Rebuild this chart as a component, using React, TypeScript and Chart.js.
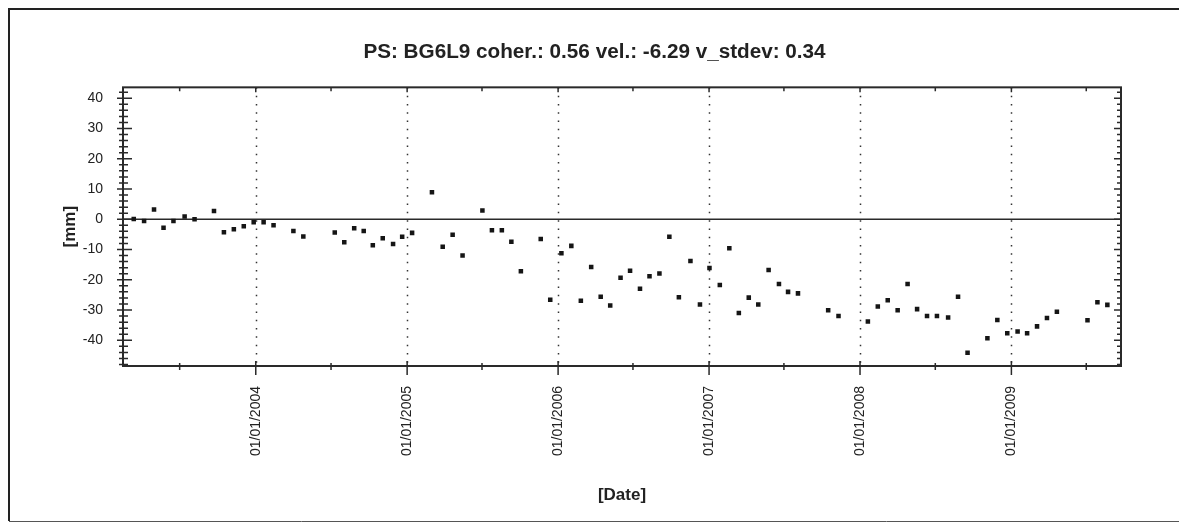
import { useEffect, useRef } from 'react';
import { Chart, registerables } from 'chart.js';

Chart.register(...registerables);

// ---- data ----
const chartTitle = 'PS: BG6L9 coher.: 0.56 vel.: -6.29 v_stdev: 0.34';
const xAxisTitle = '[Date]';
const yAxisTitle = '[mm]';

const acquisitionDates = [
  '2003-03-12', '2003-04-06', '2003-04-30', '2003-05-23', '2003-06-16', '2003-07-13', '2003-08-06',
  '2003-09-22', '2003-10-16', '2003-11-09', '2003-12-03', '2003-12-27', '2004-01-20', '2004-02-13',
  '2004-04-01', '2004-04-25', '2004-07-10', '2004-08-02', '2004-08-26', '2004-09-18', '2004-10-10',
  '2004-11-03', '2004-11-28', '2004-12-20', '2005-01-13', '2005-03-02', '2005-03-28', '2005-04-21',
  '2005-05-15', '2005-07-02', '2005-07-25', '2005-08-18', '2005-09-10', '2005-10-03', '2005-11-20',
  '2005-12-13', '2006-01-09', '2006-02-02', '2006-02-25', '2006-03-22', '2006-04-14', '2006-05-07',
  '2006-06-01', '2006-06-24', '2006-07-18', '2006-08-10', '2006-09-03', '2006-09-27', '2006-10-20',
  '2006-11-17', '2006-12-10', '2007-01-02', '2007-01-27', '2007-02-19', '2007-03-14', '2007-04-07',
  '2007-04-30', '2007-05-25', '2007-06-19', '2007-07-11', '2007-08-04', '2007-10-16', '2007-11-10',
  '2008-01-20', '2008-02-13', '2008-03-08', '2008-04-01', '2008-04-25', '2008-05-18', '2008-06-11',
  '2008-07-05', '2008-08-01', '2008-08-25', '2008-09-17', '2008-11-04', '2008-11-28', '2008-12-22',
  '2009-01-16', '2009-02-08', '2009-03-04', '2009-03-28', '2009-04-21', '2009-07-04', '2009-07-28',
  '2009-08-21',
];

const displacementMm = [
  0.1, -0.6, 3.2, -2.8, -0.6, 0.9, 0.0,
  2.7, -4.3, -3.3, -2.3, -1.0, -1.0, -2.0,
  -3.9, -5.7, -4.4, -7.6, -3.0, -3.9, -8.6,
  -6.3, -8.2, -5.8, -4.5, 8.9, -9.1, -5.1,
  -12.0, 2.9, -3.6, -3.6, -7.4, -17.2, -6.5,
  -26.6, -11.2, -8.8, -26.9, -15.8, -25.6, -28.5,
  -19.3, -17.0, -23.0, -18.8, -17.9, -5.8, -25.8,
  -13.8, -28.2, -16.1, -21.7, -9.6, -31.0, -25.9,
  -28.2, -16.8, -21.4, -24.0, -24.5, -30.1, -32.0,
  -33.8, -28.8, -26.8, -30.1, -21.4, -29.7, -32.0,
  -32.0, -32.5, -25.6, -44.1, -39.3, -33.3, -37.7,
  -37.1, -37.7, -35.4, -32.6, -30.6, -33.4, -27.4,
  -28.3,
];

const xTickDates = ['2004-01-01', '2005-01-01', '2006-01-01', '2007-01-01', '2008-01-01', '2009-01-01'];
const xTickLabels = ['01/01/2004', '01/01/2005', '01/01/2006', '01/01/2007', '01/01/2008', '01/01/2009'];
const xMinorTickDates = ['2003-07-01', '2004-07-01', '2005-07-01', '2006-07-01', '2007-07-01', '2008-07-01', '2009-07-01'];
const xRange = ['2003-02-14', '2009-09-23'];

const yTickValues = [-40, -30, -20, -10, 0, 10, 20, 30, 40];
const yMinorTickValues = [-48, -46, -44, -42, -38, -36, -34, -32, -28, -26, -24, -22, -18, -16, -14, -12, -8, -6, -4, -2, 2, 4, 6, 8, 12, 14, 16, 18, 22, 24, 26, 28, 32, 34, 36, 38, 42];
const yRange = [-48.5, 43.6];

// ---- helpers ----
const toDay = (s: string) => {
  const [y, m, d] = s.split('-').map(Number);
  return Date.UTC(y, m - 1, d) / 86400000;
};

const FONT = '"Liberation Sans", Arial, sans-serif';
const INK = '#222222';

const framePlugin = {
  id: 'psFrame',
  beforeDatasetsDraw(chart: any) {
    const { ctx, chartArea, scales } = chart;
    const xs = scales.x;
    const ys = scales.y;
    const { left, right, top, bottom } = chartArea;
    ctx.save();

    // outer page frame
    ctx.strokeStyle = INK;
    ctx.lineWidth = 2;
    ctx.beginPath();
    ctx.moveTo(1179, 9);
    ctx.lineTo(9, 9);
    ctx.lineTo(9, 521);
    ctx.stroke();
    ctx.strokeStyle = '#555555';
    ctx.lineWidth = 1;
    ctx.beginPath();
    ctx.moveTo(9, 521.5);
    ctx.lineTo(1179, 521.5);
    ctx.stroke();

    // dotted year lines
    ctx.strokeStyle = '#333333';
    ctx.lineWidth = 1.5;
    ctx.setLineDash([1.5, 6.8]);
    xTickDates.forEach((d) => {
      const px = Math.round(xs.getPixelForValue(toDay(d))) + 0.5;
      ctx.beginPath();
      ctx.moveTo(px, top);
      ctx.lineTo(px, bottom);
      ctx.stroke();
    });
    ctx.setLineDash([]);

    // zero line
    const py0 = ys.getPixelForValue(0);
    ctx.strokeStyle = '#2a2a2a';
    ctx.lineWidth = 1.6;
    ctx.beginPath();
    ctx.moveTo(left, py0);
    ctx.lineTo(right, py0);
    ctx.stroke();

    // plot box
    ctx.strokeStyle = '#2a2a2a';
    ctx.lineWidth = 2;
    ctx.strokeRect(left, top, right - left, bottom - top);

    // y ticks (left crosses, right inside)
    ctx.lineWidth = 1.5;
    yTickValues.forEach((v) => {
      const py = ys.getPixelForValue(v);
      ctx.beginPath();
      ctx.moveTo(left - 6, py);
      ctx.lineTo(left + 9, py);
      ctx.moveTo(right - 7, py);
      ctx.lineTo(right + 1, py);
      ctx.stroke();
    });
    yMinorTickValues.forEach((v) => {
      const py = ys.getPixelForValue(v);
      ctx.beginPath();
      ctx.moveTo(left - 4, py);
      ctx.lineTo(left + 5, py);
      ctx.moveTo(right - 4, py);
      ctx.lineTo(right + 1, py);
      ctx.stroke();
    });

    // x ticks (bottom crosses, top inside)
    xTickDates.forEach((d) => {
      const px = xs.getPixelForValue(toDay(d));
      ctx.beginPath();
      ctx.moveTo(px, bottom - 5);
      ctx.lineTo(px, bottom + 9);
      ctx.moveTo(px, top);
      ctx.lineTo(px, top + 5);
      ctx.stroke();
    });
    xMinorTickDates.forEach((d) => {
      const px = xs.getPixelForValue(toDay(d));
      ctx.beginPath();
      ctx.moveTo(px, bottom - 3);
      ctx.lineTo(px, bottom + 4);
      ctx.moveTo(px, top);
      ctx.lineTo(px, top + 4);
      ctx.stroke();
    });

    ctx.restore();
  },
};

export default function App() {
  const canvasRef = useRef<HTMLCanvasElement | null>(null);

  useEffect(() => {
    const canvas = canvasRef.current;
    if (!canvas) return;
    const chart = new Chart(canvas, {
      type: 'scatter',
      data: {
        datasets: [
          {
            data: acquisitionDates.map((d, i) => ({ x: toDay(d), y: displacementMm[i] })),
            pointStyle: 'rect',
            pointRadius: 3.2,
            pointHoverRadius: 3.2,
            backgroundColor: '#151515',
            borderColor: '#151515',
            borderWidth: 0,
            showLine: false,
          },
        ],
      },
      options: {
        animation: false,
        responsive: false,
        devicePixelRatio: 1,
        layout: { padding: { left: 10, right: 0, top: 0, bottom: 0 } },
        plugins: {
          legend: { display: false },
          tooltip: { enabled: false },
          title: {
            display: true,
            text: chartTitle,
            color: INK,
            font: { family: FONT, size: 20.7, weight: 'bold', lineHeight: 1.2 },
            padding: { top: 39.6, bottom: 22.9 },
          },
        },
        scales: {
          x: {
            type: 'linear',
            min: toDay(xRange[0]),
            max: toDay(xRange[1]),
            afterBuildTicks: (scale: any) => {
              scale.ticks = xTickDates.map((d) => ({ value: toDay(d) }));
            },
            afterFit: (scale: any) => {
              scale.height = 161;
            },
            ticks: {
              autoSkip: false,
              minRotation: 90,
              maxRotation: 90,
              padding: 20,
              color: INK,
              font: { family: FONT, size: 14 },
              callback: (_v: any, i: number) => xTickLabels[i],
            },
            grid: { display: false, drawTicks: false },
            border: { display: false },
            title: {
              display: true,
              text: xAxisTitle,
              color: INK,
              font: { family: FONT, size: 17, weight: 'bold', lineHeight: 1.2 },
              padding: { top: 0, bottom: 21 },
            },
          },
          y: {
            type: 'linear',
            position: 'left',
            min: yRange[0],
            max: yRange[1],
            afterBuildTicks: (scale: any) => {
              scale.ticks = yTickValues.map((v) => ({ value: v }));
            },
            afterFit: (scale: any) => {
              scale.width = 113;
            },
            ticks: {
              padding: 20,
              color: INK,
              font: { family: FONT, size: 14 },
            },
            grid: { display: false, drawTicks: false },
            border: { display: false },
            title: {
              display: true,
              text: yAxisTitle,
              color: INK,
              font: { family: FONT, size: 17, weight: 'bold', lineHeight: 1.2 },
              padding: { top: 50, bottom: 0 },
            },
          },
          yRight: {
            type: 'linear',
            position: 'right',
            min: yRange[0],
            max: yRange[1],
            afterFit: (scale: any) => {
              scale.width = 58;
            },
            ticks: { display: false },
            grid: { display: false, drawTicks: false },
            border: { display: false },
          },
        },
      },
      plugins: [framePlugin],
    });
    return () => chart.destroy();
  }, []);

  return (
    <div style={{ position: 'absolute', left: 0, top: 0, width: 1179, height: 527, background: '#ffffff' }}>
      <canvas ref={canvasRef} width={1179} height={527} style={{ display: 'block', width: 1179, height: 527 }} />
    </div>
  );
}
